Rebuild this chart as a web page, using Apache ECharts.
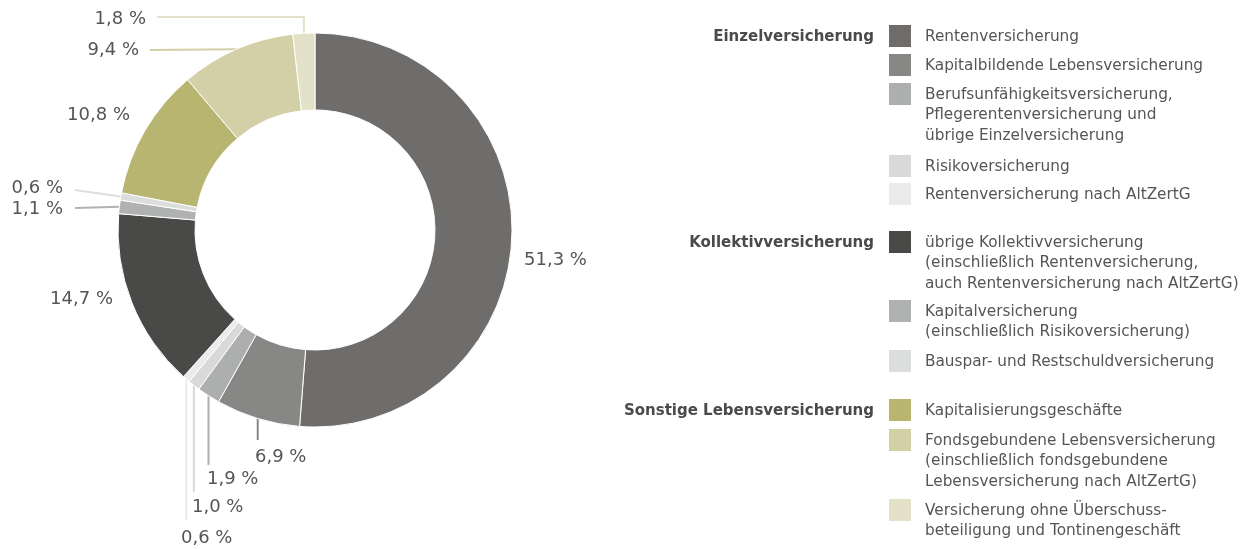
<!DOCTYPE html>
<html>
<head>
<meta charset="utf-8">
<script src="https://cdn.jsdelivr.net/npm/echarts@6/dist/echarts.min.js"></script>
<style>
html,body{margin:0;padding:0;background:#fff;}
#main{width:1249px;height:549px;}
</style>
</head>
<body>
<div id="main"></div>
<script>
// ---- data ----
const categories = [
  'Rentenversicherung',
  'Kapitalbildende Lebensversicherung',
  'Berufsunfähigkeitsversicherung,\nPflegerentenversicherung und\nübrige Einzelversicherung',
  'Risikoversicherung',
  'Rentenversicherung nach AltZertG',
  'übrige Kollektivversicherung\n(einschließlich Rentenversicherung,\nauch Rentenversicherung nach AltZertG)',
  'Kapitalversicherung\n(einschließlich Risikoversicherung)',
  'Bauspar- und Restschuldversicherung',
  'Kapitalisierungsgeschäfte',
  'Fondsgebundene Lebensversicherung\n(einschließlich fondsgebundene\nLebensversicherung nach AltZertG)',
  'Versicherung ohne Überschuss-\nbeteiligung und Tontinengeschäft'
];
const shares = [51.3, 6.9, 1.9, 1.0, 0.6, 14.7, 1.1, 0.6, 10.8, 9.4, 1.8];
const groups = ['Einzelversicherung', 'Kollektivversicherung', 'Sonstige Lebensversicherung'];
const groupStart = [0, 5, 8]; // index of first category in each group

// ---- styles / layout ----
const colors = ['#6e6d6b', '#878786', '#adaeae', '#d9d9d9', '#ebebeb',
                '#494947', '#b0b1b1', '#dcdddd', '#b7b56f', '#d3d0a7', '#e3e1c8'];
const CX = 315, CY = 230, R_IN = 120, R_OUT = 197;
const legendTops = [25, 54, 83, 155, 183, 231, 300, 350, 399, 429, 499];
const labelSpec = [
  {x: 524, y: 260, align: 'left'},
  {x: 255, y: 457, align: 'left', line: 'down', end: 440},
  {x: 207, y: 479, align: 'left', line: 'down', end: 465},
  {x: 192, y: 507, align: 'left', line: 'down', end: 492},
  {x: 181, y: 538, align: 'left', line: 'down', end: 520},
  {x: 113, y: 299, align: 'right'},
  {x: 63, y: 209, align: 'right', line: 'h', end: [75, 208]},
  {x: 63, y: 188, align: 'right', line: 'h', end: [75, 190]},
  {x: 130, y: 115, align: 'right'},
  {x: 139, y: 50, align: 'right', line: 'h', end: [150, 50]},
  {x: 146, y: 19, align: 'right', line: 'elbow', end: [157, 17]}
];
const TXT = '#555555';
const FONT = '"DejaVu Sans", Verdana, sans-serif';

const total = shares.reduce((a, b) => a + b, 0);
function midPoint(i) {
  let before = 0;
  for (let k = 0; k < i; k++) before += shares[k];
  const theta = (before + shares[i] / 2) / total * 2 * Math.PI;
  return [CX + R_OUT * Math.sin(theta), CY - R_OUT * Math.cos(theta)];
}

const chart = echarts.init(document.getElementById('main'), null, {renderer: 'canvas'});

const pieData = categories.map((name, i) => ({
  name: name,
  value: shares[i],
  itemStyle: {color: colors[i]},
  labelLine: {show: !!labelSpec[i].line, lineStyle: {color: colors[i], width: 2}}
}));

// legend built from the arrays
const graphics = [];
categories.forEach((name, i) => {
  const top = legendTops[i];
  graphics.push({
    type: 'rect', silent: true,
    shape: {x: 889, y: top, width: 22, height: 22},
    style: {fill: colors[i]}
  });
  graphics.push({
    type: 'text', silent: true,
    x: 925, y: top + 12 - 10.25,
    style: {text: name, fill: TXT, font: '15.3px ' + FONT, lineHeight: 20.5,
            align: 'left', verticalAlign: 'top'}
  });
});
groups.forEach((g, j) => {
  const top = legendTops[groupStart[j]];
  graphics.push({
    type: 'text', silent: true,
    x: 874, y: top + 12,
    style: {text: g, fill: '#4a4a4a', font: 'bold 15px ' + FONT,
            align: 'right', verticalAlign: 'middle'}
  });
});

chart.setOption({
  animation: false,
  backgroundColor: '#ffffff',
  series: [{
    type: 'pie',
    center: [CX, CY],
    radius: [R_IN, R_OUT],
    startAngle: 90,
    clockwise: true,
    avoidLabelOverlap: false,
    itemStyle: {borderColor: '#ffffff', borderWidth: 1},
    emphasis: {disabled: true},
    label: {
      show: true, position: 'outside',
      formatter: p => p.value.toFixed(1).replace('.', ',') + ' %',
      color: TXT, fontSize: 18, fontFamily: FONT
    },
    labelLine: {show: true, length: 10, length2: 10, lineStyle: {width: 2}},
    labelLayout: function (params) {
      const i = params.dataIndex;
      const s = labelSpec[i];
      const m = midPoint(i);
      const out = {x: s.x, y: s.y, align: s.align, verticalAlign: 'middle'};
      if (s.line === 'down') {
        out.labelLinePoints = [[m[0], m[1]], [m[0], s.end], [m[0], s.end]];
      } else if (s.line === 'h') {
        out.labelLinePoints = [[m[0], m[1]], [s.end[0], s.end[1]], [s.end[0], s.end[1]]];
      } else if (s.line === 'elbow') {
        out.labelLinePoints = [[m[0], m[1]], [m[0], s.end[1]], [s.end[0], s.end[1]]];
      }
      return out;
    },
    data: pieData
  }],
  graphic: graphics
});
</script>
</body>
</html>
